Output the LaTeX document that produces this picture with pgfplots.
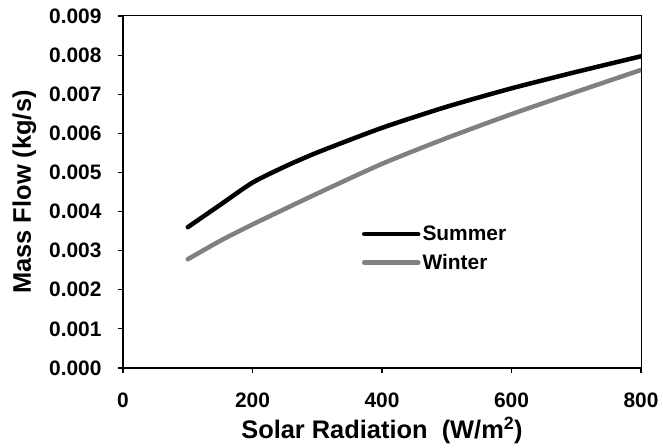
\documentclass[border=0pt]{standalone}
\usepackage{fontspec}
\setmainfont{Liberation Sans}
\usepackage{pgfplots}
\pgfplotsset{compat=1.18}
\definecolor{wintergray}{RGB}{128,128,128}
\begin{document}
\begin{tikzpicture}
\begin{axis}[
  name=ax,
  scale only axis,
  width=518bp, height=352bp,
  xmin=0, xmax=800, ymin=0, ymax=0.009,
  xtick={0,200,400,600,800},
  ytick={0,0.001,...,0.0095},
  scaled y ticks=false,
  /pgf/number format/assume math mode=true,
  tick label style={font=\fontsize{21}{23}\selectfont\bfseries},
  xticklabel style={yshift=-16bp},
  yticklabel style={xshift=-13bp, /pgf/number format/.cd, fixed, fixed zerofill, precision=3},
  xlabel={Solar Radiation\ \ (W/m\textsuperscript{2})},
  ylabel={Mass Flow (kg/s)},
  label style={font=\fontsize{25.5}{27}\selectfont\bfseries},
  xlabel style={yshift=-3bp},
  ylabel style={yshift=6bp},
  tick align=outside,
  xtick pos=bottom, ytick pos=left,
  major tick length=5bp,
  tick style={black, line width=1.2bp},
  axis line style={line width=1bp},
  legend style={draw=none, fill=none, at={(0.461,0.415)}, anchor=north west,
    font=\fontsize{21}{23}\selectfont\bfseries, row sep=8bp,
    legend cell align=left, inner xsep=0bp,
    nodes={inner xsep=2bp}},
  legend image code/.code={\draw[#1] (0bp,0bp) -- (54bp,0bp);},
]
\addplot[black, line width=4.5bp, line cap=round, smooth, tension=0.4] coordinates {
  (100,0.00360) (150,0.00417) (200,0.00474) (250,0.00515) (300,0.00551)
  (400,0.00614) (500,0.00668) (600,0.00715) (700,0.00757) (800,0.00797)
};
\addlegendentry{Summer}
\addplot[wintergray, line width=4.5bp, line cap=round, smooth, tension=0.4] coordinates {
  (100,0.00278) (150,0.00325) (200,0.00367) (300,0.00446) (400,0.00522)
  (500,0.00588) (600,0.00649) (700,0.00706) (800,0.00762)
};
\addlegendentry{Winter}
\end{axis}
\draw[line width=2bp] (ax.south west) -- (ax.north west);
\draw[line width=2bp] (ax.south west) -- (ax.south east);
\path[use as bounding box] ([shift={(-123bp,-78bp)}]ax.south west) rectangle ([shift={(22bp,16bp)}]ax.north east);
\end{tikzpicture}
\end{document}
